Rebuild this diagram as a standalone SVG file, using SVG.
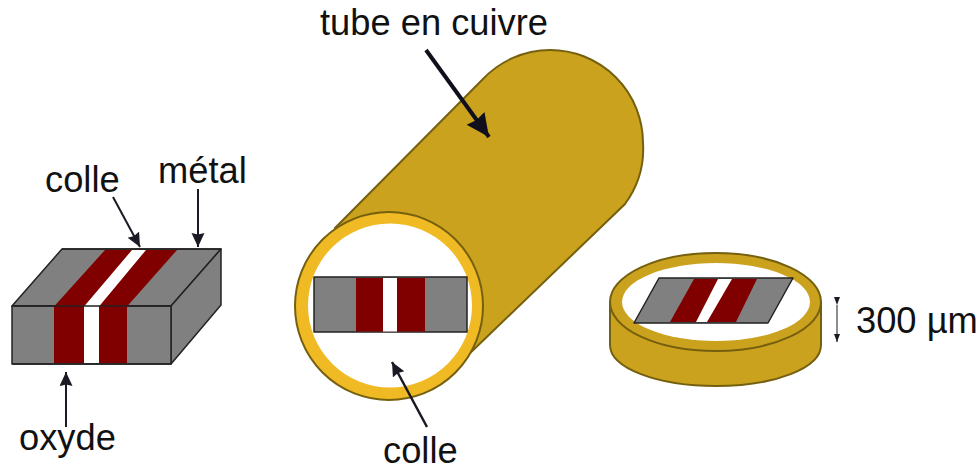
<svg xmlns="http://www.w3.org/2000/svg" width="980" height="471" viewBox="0 0 980 471">
<style>
text{font-family:"Liberation Sans",Arial,sans-serif;font-size:36.300px;fill:#111}
.gs{fill:#808080;stroke:#222;stroke-width:1.500;stroke-linejoin:round}
.r{fill:#800000}.w{fill:#fff}
.edge{fill:none;stroke:#222;stroke-width:1.500;stroke-linejoin:round}
.cu{fill:#cba21e;stroke:#75600f;stroke-width:2}
.ring{fill:#efba24;stroke:#75600f;stroke-width:2}
.rim{fill:#cba21e;stroke:#75600f;stroke-width:2}
.in{fill:#fff;stroke:none}
.a{fill:none;stroke:#1a1a24;stroke-width:2}
.a2{fill:none;stroke:#10101c;stroke-width:4}
</style>
<defs>
<marker id="ah" markerUnits="userSpaceOnUse" markerWidth="16" markerHeight="16" refX="14" refY="6.500" orient="auto"><path d="M0 0L14 6.500L0 13L1.500 6.500Z" fill="#1a1a24"/></marker>
<marker id="ahb" markerUnits="userSpaceOnUse" markerWidth="26" markerHeight="26" refX="23" refY="11" orient="auto"><path d="M0 0L23 11L0 22L2 11Z" fill="#10101c"/></marker>
<marker id="ahs" markerUnits="userSpaceOnUse" markerWidth="8" markerHeight="12" refX="8" refY="3" orient="auto"><path d="M0 0L8 3L0 6Z" fill="#1a1a24"/></marker>
</defs>
<g id="tube">
<path class="cu" d="M335 228L482 80A93 93 0 0 1 550 50A93 93 0 0 1 643 143A93 93 0 0 1 625 204L438 384L380 350Z"/>
<circle class="ring" cx="389" cy="306" r="94"/>
<circle class="in" cx="390" cy="305.500" r="82"/>
<rect class="gs" x="314" y="277" width="153" height="55"/>
<rect class="r" x="356" y="278" width="69" height="53.500"/>
<rect class="w" x="383" y="278" width="14" height="53.500"/>
</g>
<g id="block">
<path class="gs" d="M12 306L62 249H221L171 306Z"/>
<path class="gs" d="M171 306L221 249V305L171 364Z"/>
<rect class="gs" x="12" y="306" width="159" height="58"/>
<path class="r" d="M54 306.500L105 250H177L127 306.500V363H54Z"/>
<path class="w" d="M84 306.500L132 250H146L99 306.500V363H84Z"/>
<path class="edge" d="M12 306H171M62 249H221M12 364H171"/>
</g>
<g id="disc">
<path class="cu" d="M610 302V345C610 368 657 386 716 386S821 368 821 345V302Z"/>
<ellipse class="rim" cx="715.500" cy="302" rx="105.500" ry="49"/>
<ellipse class="in" cx="716" cy="302" rx="94" ry="39"/>
<path class="gs" d="M659 278H793L768 323H634Z"/>
<path class="r" d="M694 279H757L736 322H670Z"/>
<path class="w" d="M718 279H732L707 322H696Z"/>
</g>
<g id="connectors">
<path class="a" marker-end="url(#ah)" d="M113 197L140 247"/>
<path class="a" marker-end="url(#ah)" d="M198 189V247"/>
<path class="a" marker-end="url(#ah)" d="M66 427V372"/>
<path class="a2" marker-end="url(#ahb)" d="M426 50L489 137"/>
<path class="a" style="stroke-width:2.500" marker-end="url(#ah)" d="M427 427L392 362"/>
<path class="a" style="stroke-width:1" marker-start="url(#ahs)" marker-end="url(#ahs)" d="M837 305V342"/>
</g>
<g id="labels">
<text x="320" y="35">tube en cuivre</text>
<text x="45" y="192">colle</text>
<text x="158" y="183">métal</text>
<text x="19" y="450">oxyde</text>
<text x="383" y="463">colle</text>
<text x="856" y="333">300 µm</text>
</g>
</svg>
